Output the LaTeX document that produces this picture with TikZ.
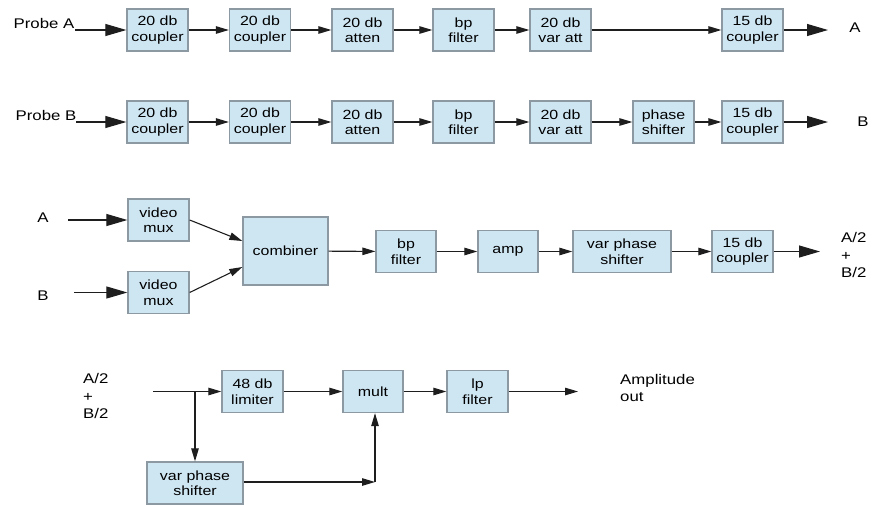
\documentclass[tikz,border=0pt]{standalone}
\usepackage{fontspec}
\setmainfont{Liberation Sans}[FakeStretch=1.2]
\usetikzlibrary{arrows.meta}
\definecolor{boxfill}{RGB}{206,229,242}
\definecolor{boxline}{RGB}{140,152,162}
\definecolor{lin}{RGB}{30,30,30}
\tikzset{
  blk/.style={draw=boxline, fill=boxfill, line width=1.3pt, inner sep=0pt, align=center,
    minimum width=61pt, minimum height=42pt, font=\fontsize{13.3}{15.5}\selectfont},
  lbl/.style={inner sep=0pt, align=left, font=\fontsize{14}{17.5}\selectfont},
  sar/.style={draw=lin, line width=1.1pt, -{Triangle[length=13pt,width=7.5pt]}},
  bar/.style={draw=lin, line width=1.1pt, -{Triangle[length=21pt,width=12pt]}},
}
\begin{document}
\begin{tikzpicture}[x=1pt,y=-1pt]
\useasboundingbox (0,0) rectangle (872,504);
% Row 1
\node[lbl] (pa) at (44,23) {Probe A};
\coordinate (pas) at (75,30);
\node[blk] (a1) at (157.5,30) {20 db\\coupler};
\node[blk] (a2) at (260,30) {20 db\\coupler};
\node[blk] (a3) at (362.5,30) {20 db\\atten};
\node[blk] (a4) at (463.5,30) {bp\\filter};
\node[blk] (a5) at (560.5,30) {20 db\\var att};
\node[blk] (a6) at (752.5,30) {15 db\\coupler};
\coordinate (ae) at (828,30);
\node[lbl] (la) at (855,28) {A};
\draw[bar] (pas) -- (a1);
\draw[sar] (a1) -- (a2);
\draw[sar] (a2) -- (a3);
\draw[sar] (a3) -- (a4);
\draw[sar] (a4) -- (a5);
\draw[sar] (a5) -- (a6);
\draw[bar] (a6) -- (ae);
% Row 2
\node[lbl] (pb) at (46,115) {Probe B};
\coordinate (pbs) at (76,122);
\node[blk] (b1) at (157.5,122) {20 db\\coupler};
\node[blk] (b2) at (260,122) {20 db\\coupler};
\node[blk] (b3) at (362.5,122) {20 db\\atten};
\node[blk] (b4) at (463.5,122) {bp\\filter};
\node[blk] (b5) at (560.5,122) {20 db\\var att};
\node[blk] (b6) at (663.5,122) {phase\\shifter};
\node[blk] (b7) at (752.5,122) {15 db\\coupler};
\coordinate (be) at (828,122);
\node[lbl] (lb) at (863,122) {B};
\draw[bar] (pbs) -- (b1);
\draw[sar] (b1) -- (b2);
\draw[sar] (b2) -- (b3);
\draw[sar] (b3) -- (b4);
\draw[sar] (b4) -- (b5);
\draw[sar] (b5) -- (b6);
\draw[sar] (b6) -- (b7);
\draw[bar] (b7) -- (be);
% Row 3
\node[lbl] (ia) at (43,218) {A};
\coordinate (ias) at (68,220);
\node[lbl] (ib) at (43,296) {B};
\coordinate (ibs) at (74,292.5);
\node[blk] (m1) at (158.5,220) {video\\mux};
\node[blk] (m2) at (158.5,292.5) {video\\mux};
\node[blk, minimum width=85pt, minimum height=68pt] (cb) at (285.5,251) {combiner};
\node[blk, minimum width=60pt] (c1) at (406,251.5) {bp\\filter};
\node[blk, minimum width=60pt] (c2) at (508,251.5) {amp};
\node[blk, minimum width=98pt] (c3) at (622,251.5) {var phase\\shifter};
\node[blk] (c4) at (742.5,251.5) {15 db\\coupler};
\coordinate (ce) at (820,251.5);
\node[lbl, anchor=west] (sum1) at (841,255) {A/2\\+\\B/2};
\draw[bar] (ias) -- (m1);
\draw[bar] (ibs) -- (m2);
\draw[sar] (m1.east) -- ([yshift=10pt]cb.west);
\draw[sar] (m2.east) -- ([yshift=-16pt]cb.west);
\draw[sar] (cb) -- (c1);
\draw[sar] (c1) -- (c2);
\draw[sar] (c2) -- (c3);
\draw[sar] (c3) -- (c4);
\draw[bar] (c4) -- (ce);
% Row 4
\node[lbl, anchor=west] (sum2) at (83,396) {A/2\\+\\B/2};
\coordinate (ds) at (153,391.5);
\coordinate (dj) at (195,391.5);
\node[blk] (d1) at (252.5,391.5) {48 db\\limiter};
\node[blk, minimum width=60pt] (d2) at (373,391.5) {mult};
\node[blk] (d3) at (477.5,391.5) {lp\\filter};
\coordinate (de) at (578,391.5);
\node[lbl, anchor=west] (amp) at (620,388) {Amplitude\\out};
\node[blk, minimum width=96pt] (d4) at (195,483) {var phase\\shifter};
\coordinate (dk) at (375,482);
\draw[sar] (ds) -- (d1);
\draw[sar] (dj) -- (d4);
\draw[sar] (d1) -- (d2);
\draw[sar] (d2) -- (d3);
\draw[sar] (d3) -- (de);
\draw[sar] (d4.east |- dk) -- (dk);
\draw[sar] (dk) -- (dk |- d2.south);
\end{tikzpicture}
\end{document}
